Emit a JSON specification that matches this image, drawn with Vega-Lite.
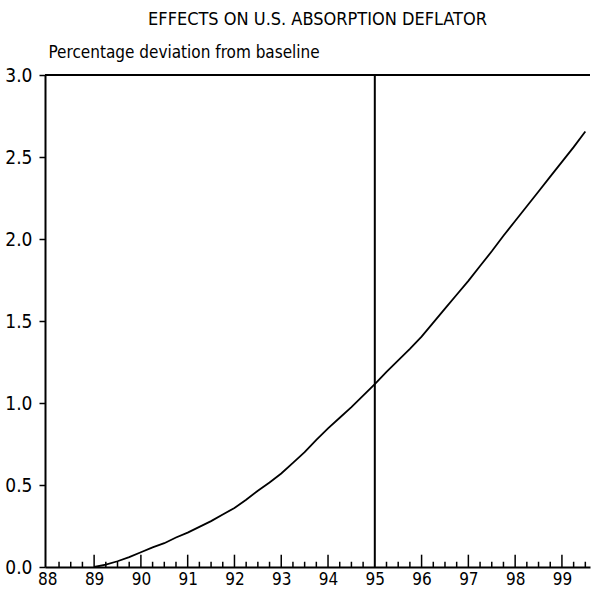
{
  "$schema": "https://vega.github.io/schema/vega-lite/v6.json",
  "width": 545,
  "height": 492,
  "autosize": {"type": "none"},
  "padding": {"left": 45, "top": 75, "right": 6, "bottom": 29},
  "background": "white",
  "config": {"view": {"stroke": null}, "font": "DejaVu Sans Condensed"},
  "title": {
    "text": "EFFECTS ON U.S. ABSORPTION DEFLATOR",
    "anchor": "middle",
    "fontSize": 18,
    "fontWeight": "normal",
    "font": "DejaVu Sans Condensed",
    "color": "black",
    "offset": 14
  },
  "datasets": {
    "deflator": [
      {"year": 89.0, "value": 0.0},
      {"year": 89.25, "value": 0.015},
      {"year": 89.5, "value": 0.035},
      {"year": 89.75, "value": 0.06},
      {"year": 90.0, "value": 0.09},
      {"year": 90.25, "value": 0.12},
      {"year": 90.5, "value": 0.145},
      {"year": 90.75, "value": 0.18},
      {"year": 91.0, "value": 0.21},
      {"year": 91.25, "value": 0.245},
      {"year": 91.5, "value": 0.28},
      {"year": 91.75, "value": 0.32},
      {"year": 92.0, "value": 0.36},
      {"year": 92.25, "value": 0.41},
      {"year": 92.5, "value": 0.465},
      {"year": 92.75, "value": 0.515},
      {"year": 93.0, "value": 0.57},
      {"year": 93.25, "value": 0.635},
      {"year": 93.5, "value": 0.7},
      {"year": 93.75, "value": 0.775},
      {"year": 94.0, "value": 0.845},
      {"year": 94.25, "value": 0.91},
      {"year": 94.5, "value": 0.975},
      {"year": 94.75, "value": 1.045},
      {"year": 95.0, "value": 1.115},
      {"year": 95.25, "value": 1.19},
      {"year": 95.5, "value": 1.26},
      {"year": 95.75, "value": 1.33},
      {"year": 96.0, "value": 1.405},
      {"year": 96.25, "value": 1.49},
      {"year": 96.5, "value": 1.575},
      {"year": 96.75, "value": 1.66},
      {"year": 97.0, "value": 1.745},
      {"year": 97.25, "value": 1.835},
      {"year": 97.5, "value": 1.925},
      {"year": 97.75, "value": 2.02},
      {"year": 98.0, "value": 2.11},
      {"year": 98.25, "value": 2.2},
      {"year": 98.5, "value": 2.29},
      {"year": 98.75, "value": 2.38},
      {"year": 99.0, "value": 2.47},
      {"year": 99.25, "value": 2.56},
      {"year": 99.5, "value": 2.655}
    ],
    "quarters": [
      {"year": 88.25}, {"year": 88.5}, {"year": 88.75},
      {"year": 89.25}, {"year": 89.5}, {"year": 89.75},
      {"year": 90.25}, {"year": 90.5}, {"year": 90.75},
      {"year": 91.25}, {"year": 91.5}, {"year": 91.75},
      {"year": 92.25}, {"year": 92.5}, {"year": 92.75},
      {"year": 93.25}, {"year": 93.5}, {"year": 93.75},
      {"year": 94.25}, {"year": 94.5}, {"year": 94.75},
      {"year": 95.25}, {"year": 95.5}, {"year": 95.75},
      {"year": 96.25}, {"year": 96.5}, {"year": 96.75},
      {"year": 97.25}, {"year": 97.5}, {"year": 97.75},
      {"year": 98.25}, {"year": 98.5}, {"year": 98.75},
      {"year": 99.25}, {"year": 99.5}
    ],
    "years": [
      {"year": 89}, {"year": 90}, {"year": 91}, {"year": 92}, {"year": 93},
      {"year": 94}, {"year": 96}, {"year": 97}, {"year": 98}, {"year": 99}
    ],
    "marker": [{"year": 95.0}],
    "topline": [{"value": 3.0}]
  },
  "layer": [
    {
      "data": {"name": "deflator"},
      "mark": {"type": "line", "color": "black", "strokeWidth": 1.8},
      "encoding": {
        "x": {
          "field": "year",
          "type": "quantitative",
          "scale": {"domain": [87.95, 99.6], "nice": false, "zero": false},
          "axis": {
            "title": null,
            "grid": false,
            "values": [88, 89, 90, 91, 92, 93, 94, 95, 96, 97, 98, 99],
            "format": "d",
            "ticks": false,
            "domainColor": "black",
            "domainWidth": 2,
            "labelFontSize": 17,
            "labelColor": "black",
            "labelPadding": 4,
            "labelFont": "DejaVu Sans Condensed"
          }
        },
        "y": {
          "field": "value",
          "type": "quantitative",
          "scale": {"domain": [0, 3], "nice": false},
          "axis": {
            "values": [0, 0.5, 1, 1.5, 2, 2.5, 3],
            "format": ".1f",
            "grid": false,
            "tickSize": 6,
            "tickColor": "black",
            "tickWidth": 1.5,
            "domainColor": "black",
            "domainWidth": 2,
            "labelFontSize": 19,
            "labelColor": "black",
            "labelPadding": 7,
            "labelFont": "DejaVu Sans Condensed",
            "title": "Percentage deviation from baseline",
            "titleAngle": 0,
            "titleAlign": "left",
            "titleBaseline": "alphabetic",
            "titleX": 3,
            "titleY": -18,
            "titleFontSize": 17,
            "titleFontWeight": "normal",
            "titleColor": "black",
            "titleFont": "DejaVu Sans Condensed"
          }
        }
      }
    },
    {
      "data": {"name": "quarters"},
      "mark": {"type": "rule", "color": "black", "strokeWidth": 1.5},
      "encoding": {
        "x": {"field": "year", "type": "quantitative"},
        "y": {"datum": 0},
        "y2": {"datum": 0.032}
      }
    },
    {
      "data": {"name": "years"},
      "mark": {"type": "rule", "color": "black", "strokeWidth": 1.5},
      "encoding": {
        "x": {"field": "year", "type": "quantitative"},
        "y": {"datum": 0},
        "y2": {"datum": 0.075}
      }
    },
    {
      "data": {"name": "marker"},
      "mark": {"type": "rule", "color": "black", "strokeWidth": 2},
      "encoding": {"x": {"field": "year", "type": "quantitative"}}
    },
    {
      "data": {"name": "topline"},
      "mark": {"type": "rule", "color": "black", "strokeWidth": 2},
      "encoding": {"y": {"field": "value", "type": "quantitative"}}
    }
  ]
}
